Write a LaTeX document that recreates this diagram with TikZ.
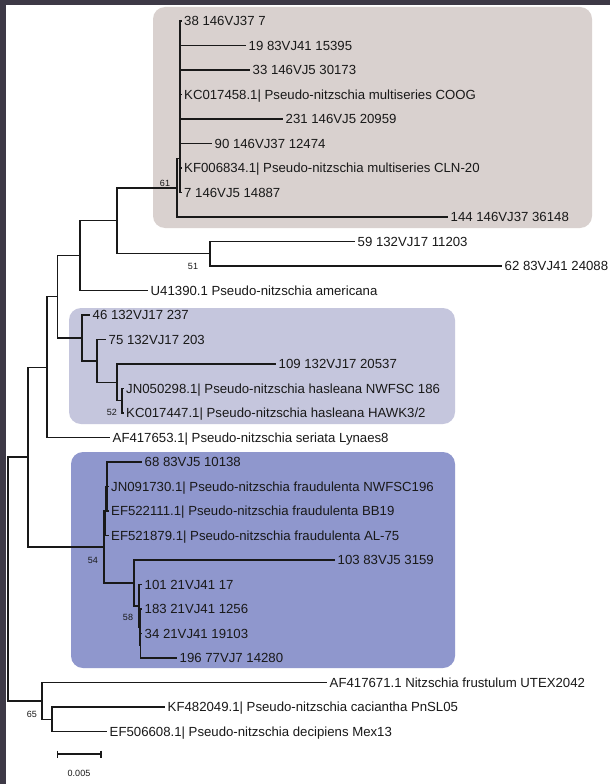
\documentclass[tikz,border=0pt]{standalone}
\usepackage{fontspec}
\setmainfont{Liberation Sans}
\definecolor{brownbox}{RGB}{217,209,207}
\definecolor{lavbox}{RGB}{197,198,221}
\definecolor{bluebox}{RGB}{143,151,205}
\definecolor{framecol}{RGB}{61,57,70}
\definecolor{ink}{RGB}{25,25,25}
\tikzset{
  br/.style={draw=ink, line width=1.3pt},
  leaf/.style={anchor=west, inner xsep=2.5pt, inner ysep=0pt, text height=9.4pt, text depth=0pt, font=\fontsize{13.2}{15}\selectfont, text=ink},
  boot/.style={font=\fontsize{9}{10}\selectfont, text=ink, inner sep=0pt},
  cladebox/.style={rounded corners=12pt}
}
\begin{document}
\begin{tikzpicture}[x=1pt,y=-1pt]
\useasboundingbox (0,0) rectangle (610,784);
\fill[white] (0,0) rectangle (610,784);
\fill[framecol] (0,0) rectangle (610,5);
\fill[framecol] (0,0) rectangle (6,784);
% clade boxes
\fill[brownbox, cladebox] (153,7) rectangle (592,228);
\fill[lavbox, cladebox] (69,308) rectangle (455,424);
\fill[bluebox, cladebox] (71,452) rectangle (455,668);
% internal nodes
\coordinate (root) at (8,579);
\coordinate (nin) at (28,457.1);
\coordinate (n47) at (47,367.15);
\coordinate (n57) at (57.5,296.8);
\coordinate (n80) at (80,255.65);
\coordinate (n117) at (117,220.8);
\coordinate (n61) at (177,187.9);
\coordinate (nq) at (180,158.8);
\coordinate (np) at (180,125.1);
\coordinate (nx) at (180,82.25);
\coordinate (n5962) at (210,253.75);
\coordinate (nlav) at (82,337.95);
\coordinate (n75) at (97,360.95);
\coordinate (n109) at (117,382.4);
\coordinate (njk) at (122,400.75);
\coordinate (n54) at (104,547);
\coordinate (nf) at (105.5,511);
\coordinate (nfp) at (107,486.5);
\coordinate (ng) at (134,583);
\coordinate (nh) at (139,605.95);
\coordinate (nh7) at (140,627.4);
\coordinate (nh8) at (140.5,645.75);
\coordinate (nout) at (42,700.9);
\coordinate (nsub) at (52,719.25);
% leaves
\node[leaf] (l0) at (181.5,21) {38 146VJ37 7};
\node[leaf] (l1) at (246,45.5) {19 83VJ41 15395};
\node[leaf] (l2) at (250,70) {33 146VJ5 30173};
\node[leaf] (l3) at (181.5,94.5) {KC017458.1| Pseudo-nitzschia multiseries COOG};
\node[leaf] (l4) at (283,119) {231 146VJ5 20959};
\node[leaf] (l5) at (212,143.5) {90 146VJ37 12474};
\node[leaf] (l6) at (181.5,168) {KF006834.1| Pseudo-nitzschia multiseries CLN-20};
\node[leaf] (l7) at (181.5,192.5) {7 146VJ5 14887};
\node[leaf] (l8) at (448,217) {144 146VJ37 36148};
\node[leaf] (l9) at (355,241.5) {59 132VJ17 11203};
\node[leaf] (l10) at (502,266) {62 83VJ41 24088};
\node[leaf] (l11) at (148,290.5) {U41390.1 Pseudo-nitzschia americana};
\node[leaf] (l12) at (90,315) {46 132VJ17 237};
\node[leaf] (l13) at (106,339.5) {75 132VJ17 203};
\node[leaf] (l14) at (276,364) {109 132VJ17 20537};
\node[leaf] (l15) at (123.5,388.5) {JN050298.1| Pseudo-nitzschia hasleana NWFSC 186};
\node[leaf] (l16) at (123.5,413) {KC017447.1| Pseudo-nitzschia hasleana HAWK3/2};
\node[leaf] (l17) at (110,437.5) {AF417653.1| Pseudo-nitzschia seriata Lynaes8};
\node[leaf] (l18) at (142,462) {68 83VJ5 10138};
\node[leaf] (l19) at (108.5,486.5) {JN091730.1| Pseudo-nitzschia fraudulenta NWFSC196};
\node[leaf] (l20) at (108.5,511) {EF522111.1| Pseudo-nitzschia fraudulenta BB19};
\node[leaf] (l21) at (108.5,535.5) {EF521879.1| Pseudo-nitzschia fraudulenta AL-75};
\node[leaf] (l22) at (335,560) {103 83VJ5 3159};
\node[leaf] (l23) at (142,584.5) {101 21VJ41 17};
\node[leaf] (l24) at (142,609) {183 21VJ41 1256};
\node[leaf] (l25) at (142,633.5) {34 21VJ41 19103};
\node[leaf] (l26) at (177,658) {196 77VJ7 14280};
\node[leaf] (l27) at (327,682.5) {AF417671.1 Nitzschia frustulum UTEX2042};
\node[leaf] (l28) at (165,707) {KF482049.1| Pseudo-nitzschia caciantha PnSL05};
\node[leaf] (l29) at (107,731.5) {EF506608.1| Pseudo-nitzschia decipiens Mex13};
% branches
\draw[br] (root) |- (nin);
\draw[br] (root) |- (nout);
\draw[br] (nin) |- (n47);
\draw[br] (nin) |- (n54);
\draw[br] (n47) |- (n57);
\draw[br] (n47) |- (l17.west);
\draw[br] (n57) |- (n80);
\draw[br] (n57) |- (nlav);
\draw[br] (n80) |- (n117);
\draw[br] (n80) |- (l11.west);
\draw[br] (n117) |- (n61);
\draw[br] (n117) |- (n5962);
\draw[br] (n61) |- (nq);
\draw[br] (n61) |- (l8.west);
\draw[br] (nq) |- (np);
\draw[br] (nq) |- (l7.west);
\draw[br] (np) |- (nx);
\draw[br] (np) |- (l6.west);
\foreach \k in {l0,l1,l2,l3,l4,l5} \draw[br] (nx) |- (\k.west);
\draw[br] (n5962) |- (l9.west);
\draw[br] (n5962) |- (l10.west);
\draw[br] (nlav) |- (l12.west);
\draw[br] (nlav) |- (n75);
\draw[br] (n75) |- (l13.west);
\draw[br] (n75) |- (n109);
\draw[br] (n109) |- (l14.west);
\draw[br] (n109) |- (njk);
\draw[br] (njk) |- (l15.west);
\draw[br] (njk) |- (l16.west);
\draw[br] (n54) |- (nf);
\draw[br] (n54) |- (ng);
\draw[br] (nf) |- (nfp);
\draw[br] (nf) |- (l21.west);
\foreach \k in {l18,l19,l20} \draw[br] (nfp) |- (\k.west);
\draw[br] (ng) |- (l22.west);
\draw[br] (ng) |- (nh);
\draw[br] (nh) |- (l23.west);
\draw[br] (nh) |- (nh7);
\draw[br] (nh7) |- (l24.west);
\draw[br] (nh7) |- (nh8);
\draw[br] (nh8) |- (l25.west);
\draw[br] (nh8) |- (l26.west);
\draw[br] (nout) |- (l27.west);
\draw[br] (nout) |- (nsub);
\draw[br] (nsub) |- (l28.west);
\draw[br] (nsub) |- (l29.west);
% bootstrap values
\node[boot] (b61) at (165,183) {61};
\node[boot] (b51) at (193,266) {51};
\node[boot] (b52) at (112,412) {52};
\node[boot] (b54) at (93,560) {54};
\node[boot] (b58) at (128,617) {58};
\node[boot] (b65) at (32,714) {65};
% scale bar
\coordinate (sa) at (57.5,754);
\coordinate (sb) at (101,754);
\draw[br, line width=1.1pt] (sa) -- (sb);
\draw[br, line width=1.1pt] ([yshift=3.5pt]sa) -- ([yshift=-3.5pt]sa);
\draw[br, line width=1.1pt] ([yshift=3.5pt]sb) -- ([yshift=-3.5pt]sb);
\node[boot] (sl) at (79,773) {0.005};
\end{tikzpicture}
\end{document}
